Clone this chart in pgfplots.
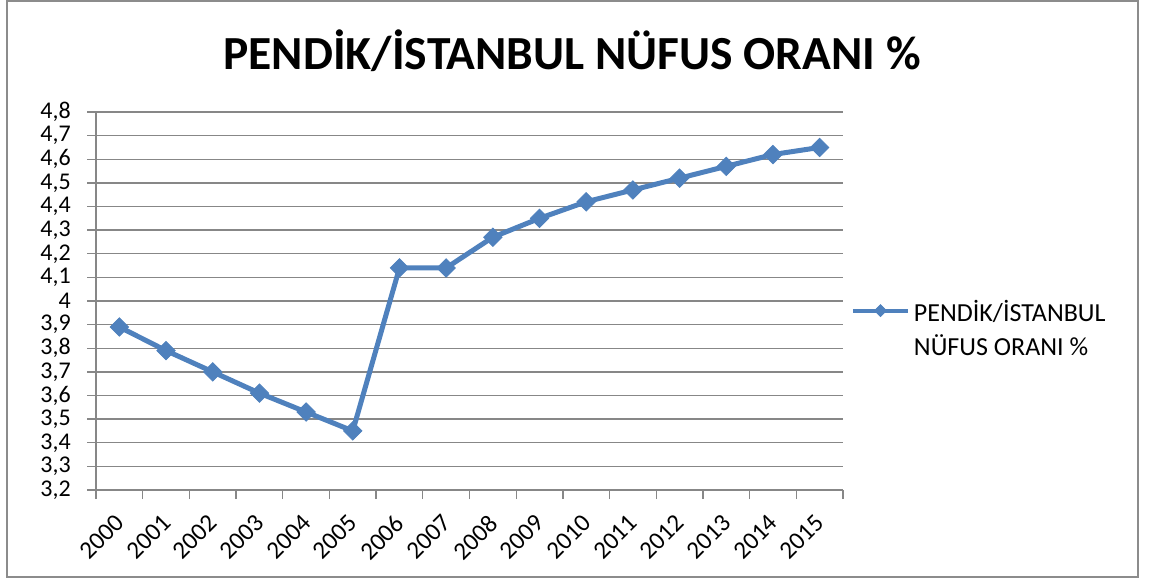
\documentclass[border=0pt]{standalone}
\usepackage{fontspec}
\setmainfont{Carlito}
\usepackage{pgfplots}
\pgfplotsset{compat=1.18}
\definecolor{serblue}{HTML}{4F81BD}
\definecolor{gridgray}{HTML}{878787}
\definecolor{framegray}{HTML}{8C8C8C}
\begin{document}
\begin{tikzpicture}
\path[use as bounding box] (0bp,0bp) rectangle (1150bp,581bp);
\draw[framegray, line width=2.5bp] (7bp,4bp) rectangle (1138bp,580bp);
\node[anchor=base, font=\fontsize{47.5bp}{56bp}\selectfont\bfseries] at (572bp,511bp) {PENDİK/İSTANBUL NÜFUS ORANI \%};
\begin{axis}[
  at={(96bp,91bp)}, anchor=south west,
  scale only axis, width=747bp, height=378bp,
  xmin=-0.5, xmax=15.5, ymin=3.2, ymax=4.8,
  axis lines*=left,
  axis line style={gridgray, line width=1.3bp},
  ymajorgrids, grid style={gridgray, line width=1.3bp},
  tick align=outside, major tick length=9bp,
  tick style={gridgray, line width=1.3bp},
  xtick={-0.5,0.5,1.5,2.5,3.5,4.5,5.5,6.5,7.5,8.5,9.5,10.5,11.5,12.5,13.5,14.5,15.5},
  xticklabels={},
  extra x ticks={0,1,2,3,4,5,6,7,8,9,10,11,12,13,14,15},
  extra x tick labels={2000,2001,2002,2003,2004,2005,2006,2007,2008,2009,2010,2011,2012,2013,2014,2015},
  extra x tick style={tick style={draw=none}, grid=none},
  xticklabel style={xshift=-5.5bp, yshift=-14bp, rotate=45, anchor=north east, inner sep=0pt, font=\fontsize{25bp}{29bp}\selectfont, text=black},
  ytick={3.2,3.3,3.4,3.5,3.6,3.7,3.8,3.9,4.0,4.1,4.2,4.3,4.4,4.5,4.6,4.7,4.8},
  yticklabels={{3,2},{3,3},{3,4},{3,5},{3,6},{3,7},{3,8},{3,9},{4},{4,1},{4,2},{4,3},{4,4},{4,5},{4,6},{4,7},{4,8}},
  yticklabel style={inner sep=0pt, xshift=-16bp, font=\fontsize{24bp}{28bp}\selectfont, text=black},
  legend style={draw=none, fill=none, inner sep=0pt, outer sep=0pt,
    at={(rel axis cs:1.0107,0.508)}, anchor=north west,
    nodes={inner sep=0pt}, column sep=4bp,
    font=\fontsize{26bp}{34bp}\selectfont},
  legend cell align=left,
  legend image code/.code={\draw[#1, line width=4bp, mark size=4.2bp, mark repeat=2, mark phase=2] plot coordinates {(0bp,0bp) (27.5bp,0bp) (55bp,0bp)};},
  clip=false,
]
\addplot[serblue, line width=5bp, mark=square*, mark size=6.5bp,
  mark options={rotate=45, solid, line width=0.8bp, fill=serblue, draw=serblue}]
  coordinates {
  (0,3.89) (1,3.79) (2,3.70) (3,3.61) (4,3.53) (5,3.45) (6,4.14) (7,4.14)
  (8,4.27) (9,4.35) (10,4.42) (11,4.47) (12,4.52) (13,4.57) (14,4.62) (15,4.65)
  };
\addlegendentry{\begin{tabular}[t]{@{}l@{}}PENDİK/İSTANBUL\\NÜFUS ORANI \%\end{tabular}}
\end{axis}
\end{tikzpicture}
\end{document}
